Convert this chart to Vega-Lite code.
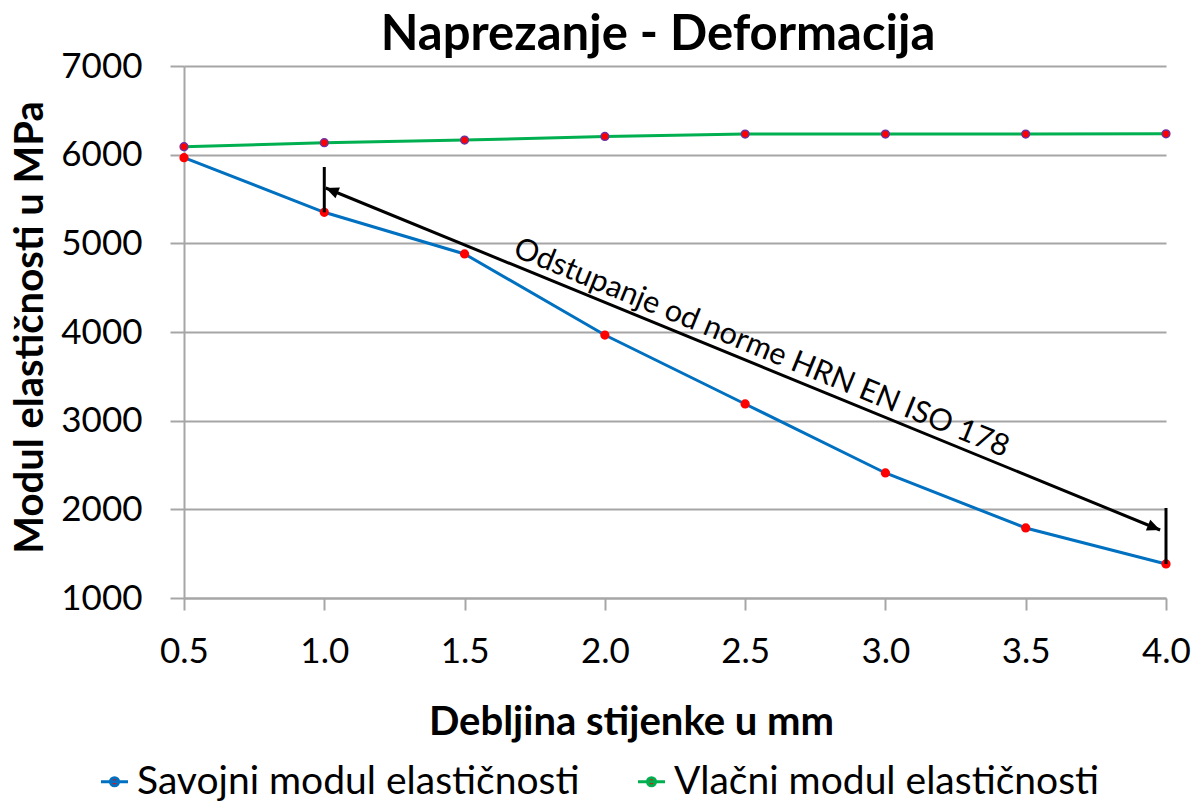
{
  "$schema": "https://vega.github.io/schema/vega-lite/v6.json",
  "width": 982,
  "height": 532,
  "autosize": {"type": "none"},
  "padding": {"left": 184, "top": 66, "right": 38, "bottom": 203},
  "background": "white",
  "config": {"font": "Lato", "view": {"stroke": null}},
  "title": {"text": "Naprezanje - Deformacija", "fontSize": 49, "fontWeight": "bold", "font": "Lato", "color": "#000000", "anchor": "middle", "dx": -17, "offset": -11},
  "datasets": {
    "series": [
      {"d": 0.5, "E": 5966, "serija": "Savojni modul elastičnosti"},
      {"d": 1.0, "E": 5350, "serija": "Savojni modul elastičnosti"},
      {"d": 1.5, "E": 4880, "serija": "Savojni modul elastičnosti"},
      {"d": 2.0, "E": 3966, "serija": "Savojni modul elastičnosti"},
      {"d": 2.5, "E": 3188, "serija": "Savojni modul elastičnosti"},
      {"d": 3.0, "E": 2410, "serija": "Savojni modul elastičnosti"},
      {"d": 3.5, "E": 1790, "serija": "Savojni modul elastičnosti"},
      {"d": 4.0, "E": 1384, "serija": "Savojni modul elastičnosti"},
      {"d": 0.5, "E": 6090, "serija": "Vlačni modul elastičnosti"},
      {"d": 1.0, "E": 6135, "serija": "Vlačni modul elastičnosti"},
      {"d": 1.5, "E": 6165, "serija": "Vlačni modul elastičnosti"},
      {"d": 2.0, "E": 6205, "serija": "Vlačni modul elastičnosti"},
      {"d": 2.5, "E": 6232, "serija": "Vlačni modul elastičnosti"},
      {"d": 3.0, "E": 6232, "serija": "Vlačni modul elastičnosti"},
      {"d": 3.5, "E": 6232, "serija": "Vlačni modul elastičnosti"},
      {"d": 4.0, "E": 6235, "serija": "Vlačni modul elastičnosti"}
    ],
    "arrow": [
      {"d": 1.005, "E": 5624, "end": "left"},
      {"d": 3.979, "E": 1767, "end": "right"}
    ],
    "bars": [
      {"d": 1.0, "E": 5861, "E2": 5350},
      {"d": 4.0, "E": 2015, "E2": 1384}
    ],
    "note": [
      {"d": 2.535, "E": 3640, "tekst": "Odstupanje od norme HRN EN ISO 178"}
    ]
  },
  "layer": [
    {
      "data": {"name": "series"},
      "mark": {"type": "line", "strokeWidth": 3},
      "encoding": {
        "x": {"field": "d", "type": "quantitative",
          "scale": {"domain": [0.5, 4.0], "nice": false, "zero": false},
          "axis": {"values": [0.5, 1.0, 1.5, 2.0, 2.5, 3.0, 3.5, 4.0], "format": ".1f", "grid": false, "labelFlush": false,
            "domainColor": "#a6a6a6", "domainWidth": 2, "tickColor": "#a6a6a6", "tickWidth": 2, "tickSize": 12,
            "labelFontSize": 35, "labelColor": "#000000", "labelPadding": 24, "labelFont": "Lato",
            "title": "Debljina stijenke u mm", "titleFontSize": 40, "titleFontWeight": "bold", "titleColor": "#000000", "titleFont": "Lato",
            "titleX": 447, "titleY": 124, "titleBaseline": "middle"}},
        "y": {"field": "E", "type": "quantitative",
          "scale": {"domain": [1000, 7000], "nice": false, "zero": false},
          "axis": {"values": [1000, 2000, 3000, 4000, 5000, 6000, 7000], "format": "d", "grid": true, "gridColor": "#a6a6a6", "gridWidth": 2,
            "domainColor": "#a6a6a6", "domainWidth": 2, "tickColor": "#a6a6a6", "tickWidth": 2, "tickSize": 14,
            "labelFontSize": 35, "labelColor": "#000000", "labelPadding": 28, "labelFont": "Lato",
            "title": "Modul elastičnosti u MPa", "titleFontSize": 40, "titleFontWeight": "bold", "titleColor": "#000000", "titleFont": "Lato",
            "titleX": -154, "titleY": 261, "titleBaseline": "middle", "titleAngle": -90}},
        "color": {"field": "serija", "type": "nominal",
          "scale": {"domain": ["Savojni modul elastičnosti", "Vlačni modul elastičnosti"], "range": ["#0070c0", "#00b050"]},
          "legend": {"orient": "none", "legendX": -89, "legendY": 696, "direction": "horizontal", "title": null,
            "labelFontSize": 39, "labelFont": "Lato", "labelColor": "#000000", "labelOffset": 3, "columnPadding": 52, "labelLimit": 0,
            "symbolType": "M-1,0L1,0M0.3,0A0.3,0.3,0,1,1,-0.3,0A0.3,0.3,0,1,1,0.3,0Z", "symbolSize": 729, "symbolStrokeWidth": 3,
            "symbolFillColor": "#ff0000",
            "encode": {"symbols": {"update": {"fill": {"value": "#ff0000"}}}}}}
      }
    },
    {
      "data": {"name": "series"},
      "mark": {"type": "point", "filled": true, "size": 60, "strokeWidth": 1.5, "fill": "#ff0000", "opacity": 1},
      "encoding": {
        "x": {"field": "d", "type": "quantitative"},
        "y": {"field": "E", "type": "quantitative"},
        "stroke": {"condition": {"test": "datum.serija === 'Vlačni modul elastičnosti'", "value": "#7030a0"}, "value": "#ff0000"}
      }
    },
    {
      "data": {"name": "bars"},
      "mark": {"type": "rule", "color": "#000000", "strokeWidth": 3},
      "encoding": {
        "x": {"field": "d", "type": "quantitative"},
        "y": {"field": "E", "type": "quantitative"},
        "y2": {"field": "E2"}
      }
    },
    {
      "data": {"name": "arrow"},
      "mark": {"type": "line", "color": "#000000", "strokeWidth": 3},
      "encoding": {
        "x": {"field": "d", "type": "quantitative"},
        "y": {"field": "E", "type": "quantitative"}
      }
    },
    {
      "data": {"name": "arrow"},
      "transform": [{"filter": "datum.end === 'right'"}],
      "mark": {"type": "point", "filled": true, "color": "#000000", "opacity": 1, "size": 676, "angle": 22.27,
        "shape": "M0,0L-1,-0.45L-1,0.45Z"},
      "encoding": {
        "x": {"field": "d", "type": "quantitative"},
        "y": {"field": "E", "type": "quantitative"}
      }
    },
    {
      "data": {"name": "arrow"},
      "transform": [{"filter": "datum.end === 'left'"}],
      "mark": {"type": "point", "filled": true, "color": "#000000", "opacity": 1, "size": 676, "angle": 202.27,
        "shape": "M0,0L-1,-0.45L-1,0.45Z"},
      "encoding": {
        "x": {"field": "d", "type": "quantitative"},
        "y": {"field": "E", "type": "quantitative"}
      }
    },
    {
      "data": {"name": "note"},
      "mark": {"type": "text", "angle": 22.27, "align": "center", "baseline": "alphabetic", "dy": -8, "fontSize": 30.5, "font": "Lato", "color": "#000000"},
      "encoding": {
        "x": {"field": "d", "type": "quantitative"},
        "y": {"field": "E", "type": "quantitative"},
        "text": {"field": "tekst"}
      }
    }
  ]
}
